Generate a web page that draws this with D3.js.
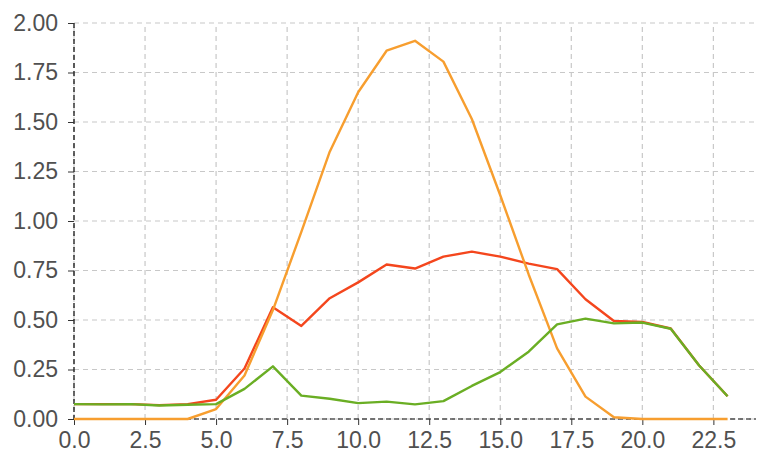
<!DOCTYPE html>
<html><head><meta charset="utf-8">
<script src="https://cdn.jsdelivr.net/npm/d3@7"></script>
<style>body{margin:0;background:#fff;} svg{display:block;}</style>
</head><body>
<svg id="c" width="758" height="454"></svg>
<script>
const hours = d3.range(0, 24);
const redValues = [0.075,0.075,0.075,0.07,0.075,0.097,0.255,0.565,0.47,0.61,0.69,0.78,0.76,0.82,0.845,0.82,0.785,0.757,0.605,0.495,0.49,0.457,0.27,0.115];
const orangeValues = [0,0,0,0,0,0.05,0.22,0.55,0.945,1.35,1.65,1.86,1.91,1.805,1.515,1.13,0.73,0.357,0.113,0.009,0,0,0,0];
const greenValues = [0.075,0.074,0.075,0.068,0.072,0.075,0.152,0.266,0.118,0.102,0.08,0.088,0.074,0.09,0.167,0.237,0.34,0.478,0.507,0.483,0.487,0.456,0.27,0.115];
const xTicks = [0,2.5,5,7.5,10,12.5,15,17.5,20,22.5];
const yTicks = [0,0.25,0.5,0.75,1,1.25,1.5,1.75,2];
const seriesColors = ["#f4461d","#f79e2f","#6aae24"];

const svg = d3.select("#c");
const x = d3.scaleLinear().domain([0,24]).range([74,756]);
const y = d3.scaleLinear().domain([0,2]).range([419,23]);

// grid
svg.append("g").selectAll("line").data(xTicks).join("line")
  .attr("x1",d=>x(d)).attr("x2",d=>x(d)).attr("y1",y(0)).attr("y2",y(2))
  .attr("stroke","#c8c8c8").attr("stroke-width",1.2).attr("stroke-dasharray","5,4");
svg.append("g").selectAll("line").data(yTicks).join("line")
  .attr("x1",x(0)).attr("x2",x(24)).attr("y1",d=>y(d)).attr("y2",d=>y(d))
  .attr("stroke","#c8c8c8").attr("stroke-width",1.2).attr("stroke-dasharray","5,4");

// axes
const yAxis = svg.append("g").attr("transform",`translate(${x(0)},0)`)
  .call(d3.axisLeft(y).tickValues(yTicks).tickFormat(d3.format(".2f")).tickSize(6).tickPadding(10));
const xAxis = svg.append("g").attr("transform",`translate(0,${y(0)})`)
  .call(d3.axisBottom(x).tickValues(xTicks).tickFormat(d3.format(".1f")).tickSize(6).tickPadding(7));
[yAxis,xAxis].forEach(g=>{
  g.select(".domain").attr("stroke","#000").attr("stroke-dasharray","5,3").attr("stroke-width",1.2);
  g.selectAll(".tick line").attr("stroke","#333");
  g.selectAll(".tick text").attr("fill","#505050").style("font-family","Liberation Sans, Arial, sans-serif").style("font-size","23px");
});
yAxis.select(".domain").attr("d",`M0,${y(2)}V${y(0)}`);
xAxis.select(".domain").attr("d",`M${x(0)},0H${x(24)}`);

const line = d3.line().x((d,i)=>x(hours[i])).y(d=>y(d));
[redValues, orangeValues, greenValues].forEach((vals,k)=>{
  svg.append("path").datum(vals).attr("d",line).attr("fill","none")
    .attr("stroke",seriesColors[k]).attr("stroke-width",2.4).attr("stroke-linejoin","round");
});
</script>
</body></html>
